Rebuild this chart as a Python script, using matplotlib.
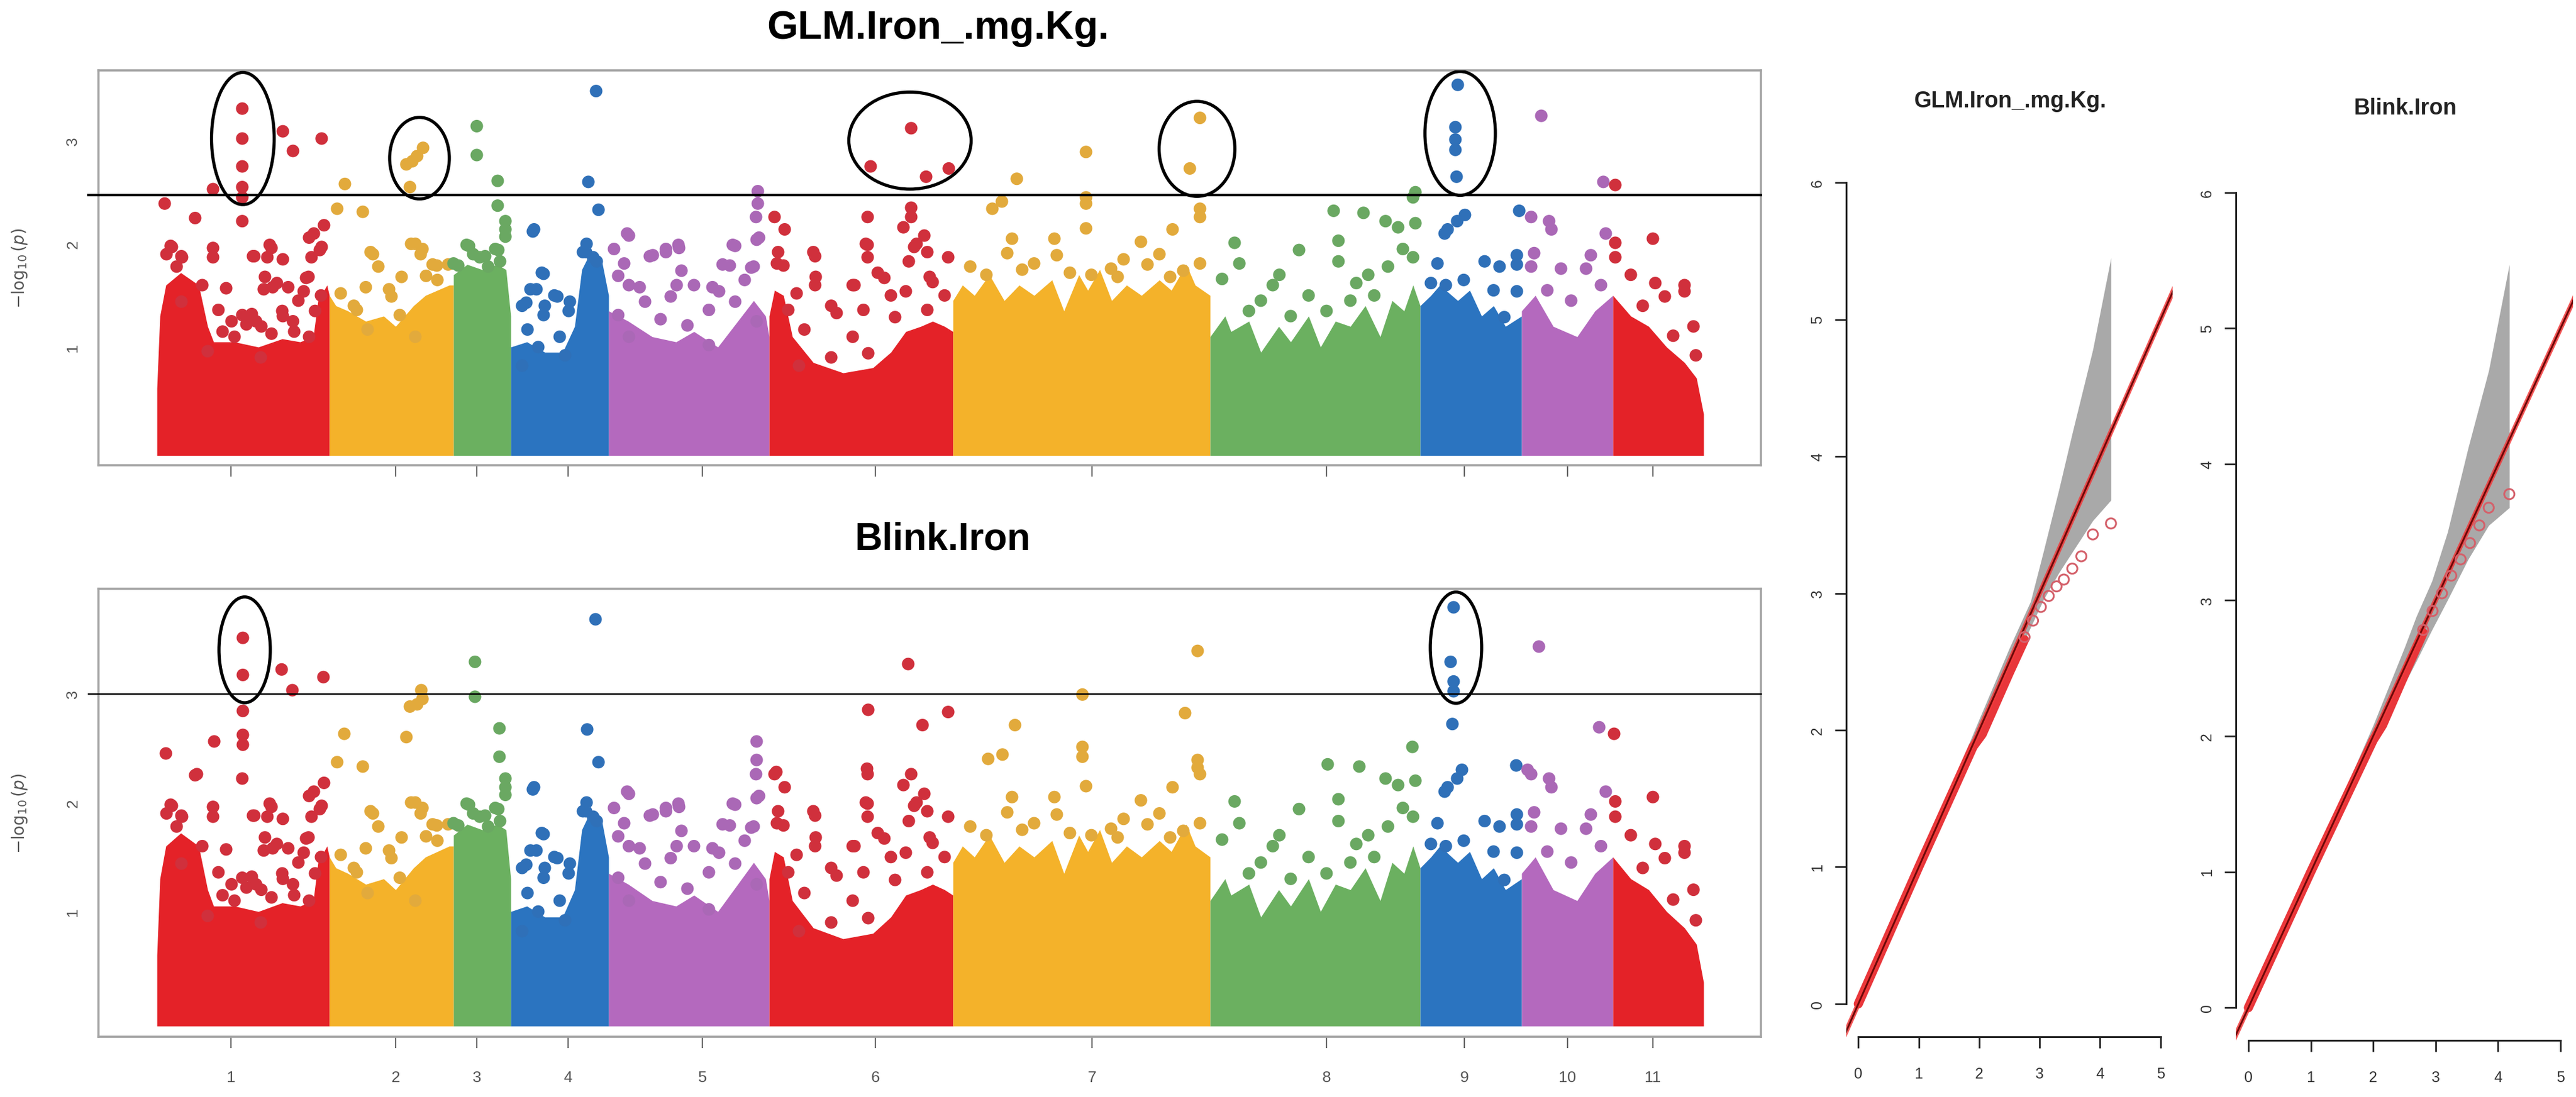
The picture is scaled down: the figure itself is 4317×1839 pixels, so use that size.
import numpy as np
import matplotlib
matplotlib.use("Agg")
import matplotlib.pyplot as plt
from matplotlib.patches import Ellipse

plt.rcParams['font.family'] = ['Liberation Sans', 'DejaVu Sans']

# ---- chromosome layout (position index units) ----
chrom_names = [str(i) for i in range(1, 12)]
chrom_len = [289, 208, 96, 164, 269, 308, 431, 352, 170, 153, 152]
chrom_tick = [124, 400, 536, 689, 914, 1204, 1567, 1960, 2191, 2364, 2507]
mass_colors = ['#e42228', '#f4b22a', '#6bb060', '#2b74c0', '#b469be']
dot_colors = ['#d0303c', '#e2aa3c', '#6aa862', '#2f70b8', '#aa68b6']

# dense bottom cloud: upper outline of the solid mass per chromosome
env_x = [
    [0, 5, 15, 40, 70, 85, 95, 130, 170, 210, 240, 262, 270, 285, 289],
    [289, 300, 320, 350, 380, 400, 430, 450, 470, 490, 497],
    [497, 520, 545, 570, 585, 593],
    [593, 620, 650, 680, 700, 712, 725, 745, 757],
    [757, 790, 830, 870, 900, 940, 980, 1000, 1020, 1026],
    [1026, 1035, 1050, 1065, 1100, 1150, 1200, 1230, 1255, 1280, 1300, 1320, 1334],
    [1334, 1350, 1370, 1395, 1420, 1445, 1470, 1500, 1520, 1545, 1560, 1580, 1600, 1625,
     1650, 1680, 1700, 1725, 1740, 1765],
    [1765, 1790, 1800, 1830, 1850, 1880, 1900, 1930, 1950, 1975, 2000, 2025, 2050, 2070,
     2090, 2105, 2117],
    [2117, 2135, 2150, 2180, 2200, 2220, 2240, 2260, 2287],
    [2287, 2310, 2340, 2380, 2410, 2440],
    [2440, 2470, 2500, 2530, 2560, 2580, 2592],
]
env_y = [
    [0.6, 1.3, 1.6, 1.72, 1.6, 1.2, 1.05, 1.05, 1.0, 1.08, 1.05, 1.1, 1.45, 1.6, 1.5],
    [1.5, 1.4, 1.35, 1.25, 1.3, 1.2, 1.4, 1.5, 1.55, 1.6, 1.6],
    [1.7, 1.8, 1.75, 1.8, 1.75, 1.3],
    [1.0, 1.05, 0.95, 0.95, 1.2, 1.75, 1.9, 1.85, 1.5],
    [1.35, 1.25, 1.1, 1.05, 1.15, 1.0, 1.3, 1.45, 1.3, 1.1],
    [1.3, 1.55, 1.5, 1.1, 0.85, 0.75, 0.8, 0.95, 1.15, 1.2, 1.25, 1.2, 1.15],
    [1.45, 1.6, 1.5, 1.7, 1.45, 1.6, 1.5, 1.65, 1.35, 1.7, 1.55, 1.75, 1.45, 1.6,
     1.5, 1.65, 1.55, 1.8, 1.6, 1.5],
    [1.1, 1.3, 1.15, 1.25, 0.95, 1.2, 1.05, 1.3, 1.0, 1.25, 1.2, 1.4, 1.1, 1.45,
     1.35, 1.6, 1.4],
    [1.4, 1.5, 1.6, 1.45, 1.55, 1.3, 1.4, 1.2, 1.3],
    [1.35, 1.5, 1.2, 1.1, 1.35, 1.5],
    [1.5, 1.3, 1.2, 1.0, 0.85, 0.7, 0.35],
]

# scattered SNPs above the dense cloud (shared by both models)
bg_x = [64, 25, 16, 42, 94, 94, 33, 163, 189, 185, 211, 259, 263, 280, 276, 116, 194, 220,
        181, 254, 237, 159, 150, 211, 143, 110, 125, 175, 230, 265, 275,
        23, 41, 161, 192, 255, 273, 179, 201, 250, 143, 210, 166, 228, 103, 41, 76, 246,
        130, 192, 255, 85, 174,
        426, 445, 358, 371, 462, 488, 350, 393, 410, 330, 470,
        362, 433, 442, 389, 308, 335, 451, 469, 407, 353, 433,
        584, 584, 584, 519, 567, 541, 497, 575, 530, 555, 523, 550, 572, 505,
        632, 714, 731, 645, 636, 619, 671, 650, 690, 720,
        630, 648, 626, 666, 612, 648, 692, 621, 675, 639, 684, 612, 719, 737,
        1004, 1009, 788, 766, 874, 853, 831, 965, 948, 1000, 879, 783, 809, 931, 861, 900, 985,
        791, 826, 853, 875, 969, 1005, 960, 996, 773, 791, 871, 942, 818, 925, 969, 773, 844,
        889, 1005, 791, 925,
        1191, 1264, 1035, 1052, 1251, 1191, 1269, 1100, 1286, 1191, 1039, 1260, 1169, 1104,
        1295, 1208, 1130, 1230, 1320,
        1041, 1050, 1103, 1188, 1273, 1291, 1326, 1072, 1103, 1166, 1219, 1255, 1300, 1058,
        1139, 1184, 1237, 1291, 1085, 1166, 1130, 1192, 1076,
        1557, 1748, 1702, 1433, 1504, 1425, 1508, 1748, 1649, 1698, 1363, 1470, 1566, 1599,
        1620, 1680, 1390, 1450, 1530, 1610, 1660, 1720,
        2059, 2080, 2109, 1806, 1914, 1980, 1814, 2088, 2105, 1785, 1881, 1980, 2030, 2063,
        1850, 1930, 2000, 1900, 1960, 2040, 1830, 1870, 2010,
        2179, 2158, 2163, 2146, 2225, 2279, 2279, 2250, 2258, 2279, 2190, 2160, 2135, 2240,
        2303, 2333, 2337, 2428, 2308, 2403, 2353, 2395, 2303, 2420, 2330, 2370,
        2444, 2507, 2444, 2511, 2560, 2560, 2527, 2541, 2579, 2470, 2490, 2575]
bg_y = [2.25, 1.97, 1.90, 1.87, 1.96, 1.87, 1.78, 1.88, 1.99, 1.87, 1.85, 1.87, 2.10, 2.18,
        1.97, 1.57, 1.58, 1.58, 1.68, 1.68, 1.45, 1.32, 1.22, 1.30, 2.22, 1.15, 1.25, 1.20,
        1.15, 1.35, 1.50,
        1.98, 1.88, 1.88, 1.96, 2.06, 1.94, 1.56, 1.62, 1.67, 1.31, 1.35, 1.25, 1.25, 1.36,
        1.44, 1.60, 1.54, 1.10, 1.13, 1.10, 0.96, 0.90,
        2.00, 1.95, 1.92, 1.78, 1.80, 1.80, 1.58, 1.49, 1.68, 1.40, 1.65,
        1.90, 2.00, 1.90, 1.56, 1.52, 1.36, 1.69, 1.79, 1.31, 1.17, 1.10,
        2.22, 2.14, 2.07, 1.99, 1.95, 1.87, 1.81, 1.83, 1.90, 1.78, 1.98, 1.88, 1.94, 1.79,
        2.14, 1.92, 1.87, 1.72, 1.56, 1.43, 1.49, 1.40, 1.35, 2.00,
        2.12, 1.71, 1.56, 1.50, 1.40, 1.31, 1.44, 1.17, 1.10, 1.00, 0.92, 0.82, 1.92, 1.83,
        2.26, 2.06, 2.10, 1.95, 1.99, 1.95, 1.89, 1.99, 1.80, 1.78, 1.74, 1.81, 1.58, 1.58,
        1.49, 1.60, 1.65,
        2.08, 1.88, 1.92, 1.96, 1.98, 2.04, 1.79, 1.77, 1.69, 1.60, 1.60, 1.54, 1.44, 1.36,
        1.44, 1.31, 1.27, 1.21, 1.25, 1.10, 1.02,
        2.26, 2.26, 2.26, 2.14, 2.16, 1.99, 1.97, 1.92, 2.08, 1.87, 1.81, 1.83, 1.60, 1.68,
        1.68, 1.72, 1.40, 1.50, 1.50,
        1.92, 1.79, 1.88, 2.00, 2.00, 1.92, 1.87, 1.52, 1.60, 1.60, 1.67, 1.54, 1.63, 1.36,
        1.33, 1.36, 1.29, 1.36, 1.17, 1.10, 0.90, 0.94, 0.82,
        2.15, 2.26, 2.14, 2.05, 2.05, 1.91, 1.89, 1.81, 2.02, 1.68, 1.78, 1.81, 1.70, 1.76,
        1.85, 1.90, 1.70, 1.75, 1.72, 1.68, 1.80, 1.74,
        2.22, 2.16, 2.20, 2.01, 1.94, 2.03, 1.81, 1.95, 1.87, 1.66, 1.70, 1.83, 1.70, 1.78,
        1.45, 1.50, 1.45, 1.30, 1.35, 1.50, 1.35, 1.60, 1.62,
        2.22, 2.10, 2.14, 1.81, 1.83, 1.89, 1.80, 1.78, 1.29, 1.54, 1.65, 1.60, 1.62, 1.55,
        2.26, 2.22, 2.14, 2.10, 1.91, 1.89, 1.76, 1.76, 1.78, 1.60, 1.55, 1.45,
        2.01, 2.05, 1.87, 1.62, 1.60, 1.54, 1.49, 1.11, 0.92, 1.70, 1.40, 1.20]

# top SNPs, GLM model
glm_x = [143, 143, 143, 143, 143, 211, 228, 276, 94, 13,
         446, 436, 428, 418, 424, 315, 302, 345,
         536, 536, 571, 571,
         736, 723, 740,
         1007, 1007,
         1264, 1196, 1289, 1327, 1264,
         1441, 1416, 1400, 1557, 1557, 1557, 1748, 1731, 1748,
         2105, 2109, 1972, 2022,
         2180, 2176, 2176, 2176, 2178, 2192,
         2320, 2424, 2283,
         2444]
glm_y = [3.31, 3.02, 2.75, 2.55, 2.45, 3.09, 2.90, 3.02, 2.53, 2.39,
         2.93, 2.85, 2.80, 2.77, 2.55, 2.58, 2.34, 2.31,
         3.14, 2.86, 2.61, 2.37,
         3.48, 2.60, 2.33,
         2.51, 2.39,
         3.12, 2.75, 2.65, 2.73, 2.35,
         2.63, 2.41, 2.34, 2.89, 2.45, 2.39, 3.22, 2.73, 2.34,
         2.45, 2.50, 2.32, 2.30,
         3.54, 3.13, 3.01, 2.91, 2.65, 2.28,
         3.24, 2.60, 2.32,
         2.57]

# top SNPs, BLINK model
blink_x = [144, 144, 144, 144, 144, 209, 227, 279, 15, 96, 67,
           443, 445, 436, 424, 418, 314, 302, 345,
           533, 533, 574, 574,
           735, 721, 740,
           1005, 1005,
           1192, 1190, 1259, 1283, 1326, 1038,
           1551, 1551, 1551, 1438, 1417, 1393, 1744, 1723, 1744, 1744,
           2104, 1962, 2015,
           2173, 2168, 2173, 2173, 2171, 2187,
           2316, 2417, 2278, 2297,
           2442]
blink_y = [3.51, 3.17, 2.84, 2.62, 2.53, 3.22, 3.03, 3.15, 2.45, 2.56, 2.26,
           3.03, 2.95, 2.90, 2.88, 2.60, 2.63, 2.37, 2.33,
           3.29, 2.97, 2.68, 2.42,
           3.68, 2.67, 2.37,
           2.56, 2.39,
           2.85, 2.31, 3.27, 2.71, 2.83, 2.28,
           2.99, 2.51, 2.42, 2.71, 2.44, 2.40, 3.39, 2.82, 2.39, 2.32,
           2.51, 2.35, 2.33,
           3.79, 3.29, 3.11, 3.02, 2.72, 2.30,
           3.43, 2.69, 2.34, 2.30,
           2.63]

glm_threshold = 2.47
blink_threshold = 3.0

# highlighted peaks: centre x, centre y, width, height
glm_rings = [(144, 3.02, 105, 1.28), (440, 2.83, 100, 0.79), (1262, 3.0, 205, 0.94),
             (1743, 2.92, 127, 0.92), (2184, 3.07, 118, 1.20)]
blink_rings = [(147, 3.40, 86, 0.97), (2177, 3.42, 86, 1.02)]

# QQ plots: confidence band and observed tail
qq_glm_band_x = [0.0, 1.0, 2.0, 2.5, 2.85, 3.06, 3.32, 3.54, 3.88, 4.18]
qq_glm_band_hi = [0.02, 1.03, 2.08, 2.60, 2.94, 3.30, 3.76, 4.17, 4.78, 5.45]
qq_glm_band_lo = [0.0, 0.97, 1.92, 2.42, 2.75, 2.95, 3.15, 3.30, 3.53, 3.68]
qq_glm_dense_x = [0.0, 1.0, 1.9, 2.05, 2.2, 2.5, 2.75]
qq_glm_dense_y = [0.0, 1.0, 1.88, 1.97, 2.12, 2.42, 2.66]
qq_glm_tail_x = [2.75, 2.89, 3.02, 3.15, 3.28, 3.40, 3.54, 3.69, 3.88, 4.18]
qq_glm_tail_y = [2.68, 2.80, 2.90, 2.98, 3.05, 3.10, 3.18, 3.27, 3.43, 3.51]

qq_blink_band_x = [0.0, 1.0, 2.0, 2.5, 2.69, 2.94, 3.19, 3.52, 3.85, 4.18]
qq_blink_band_hi = [0.02, 1.03, 2.08, 2.65, 2.88, 3.14, 3.50, 4.12, 4.69, 5.47]
qq_blink_band_lo = [0.0, 0.97, 1.92, 2.38, 2.55, 2.78, 3.00, 3.30, 3.55, 3.68]
qq_blink_dense_x = [0.0, 1.0, 2.0, 2.15, 2.5, 2.8]
qq_blink_dense_y = [0.0, 1.0, 1.97, 2.08, 2.45, 2.76]
qq_blink_tail_x = [2.8, 2.95, 3.1, 3.25, 3.4, 3.55, 3.7, 3.85, 4.18]
qq_blink_tail_y = [2.78, 2.92, 3.05, 3.18, 3.30, 3.42, 3.55, 3.68, 3.78]

W, H = 4317, 1840
fig = plt.figure(figsize=(W / 100, H / 100), dpi=100)

bounds = np.concatenate([[0], np.cumsum(chrom_len)])


def chrom_of(xs):
    return np.clip(np.searchsorted(bounds, np.asarray(xs), side='right') - 1, 0, len(chrom_len) - 1)


def manhattan(ax, top_x, top_y, threshold, rings, ylim, show_labels):
    for i in range(len(chrom_len)):
        ax.fill_between(env_x[i], -0.05, env_y[i], color=mass_colors[i % 5], lw=0, zorder=1)
    for xs, ys in ((bg_x, bg_y), (top_x, top_y)):
        cols = [dot_colors[c % 5] for c in chrom_of(xs)]
        ax.scatter(xs, ys, s=230, c=cols, linewidths=0, zorder=2)
    ax.axhline(threshold, xmin=-0.006, color='black', lw=3.0 if not show_labels else 1.8,
               zorder=3, clip_on=False)
    for cx, cy, w, h in rings:
        ax.add_patch(Ellipse((cx, cy), w, h, fill=False, ec='black', lw=3.8, zorder=4))
    ax.set_xlim(-98, 2688)
    ax.set_ylim(*ylim)
    for sp in ax.spines.values():
        sp.set_color('#a3a3a3')
        sp.set_linewidth(2.6)
    ax.set_yticks([1, 2, 3])
    ax.set_yticklabels(['1', '2', '3'], rotation=90, va='center')
    ax.tick_params(axis='y', length=0, pad=22, labelsize=19, labelcolor='#555555')
    ax.set_xticks(chrom_tick)
    ax.set_xticklabels(chrom_names if show_labels else [''] * len(chrom_names))
    ax.tick_params(axis='x', length=14, width=1.6, color='#666666', pad=26,
                   labelsize=19, labelcolor='#555555')
    ax.text(-0.0474, 0.5, r'$-\log_{10}(p)$', transform=ax.transAxes, rotation=90,
            ha='center', va='center', fontsize=20, color='#555555')


ax_top = fig.add_axes([165 / W, 1 - 781 / H, 2786 / W, 662 / H])
manhattan(ax_top, glm_x, glm_y, glm_threshold, glm_rings, (-0.145, 3.68), False)
ax_bot = fig.add_axes([165 / W, 1 - 1739 / H, 2786 / W, 751 / H])
manhattan(ax_bot, blink_x, blink_y, blink_threshold, blink_rings, (-0.148, 3.96), True)

fig.text(1572 / W, 1 - 48 / H, 'GLM.Iron_.mg.Kg.', ha='center', va='center',
         fontsize=48, fontweight='bold')
fig.text(1580 / W, 1 - 905 / H, 'Blink.Iron', ha='center', va='center',
         fontsize=46, fontweight='bold')


def qq(ax, bx, blo, bhi, dx, dy, tx, ty):
    ax.fill_between(bx, blo, bhi, color='#a9a9a9', lw=0, zorder=1)
    ax.plot(dx, dy, color='#e8363a', lw=11, solid_capstyle='round', zorder=2)
    ax.plot([-0.5, 6], [-0.5, 6], color='#f23a3a', lw=6, alpha=0.85, zorder=3)
    ax.plot([-0.5, 6], [-0.5, 6], color='#6e0808', lw=2.2, zorder=4)
    ax.scatter(tx, ty, s=150, facecolors='none', edgecolors='#d4606a', linewidths=2.2, zorder=5)
    ax.set_xlim(-0.2, 5.2)
    ax.set_ylim(-0.24, 6.24)
    ax.spines['top'].set_visible(False)
    ax.spines['right'].set_visible(False)
    ax.spines['left'].set_bounds(0, 6)
    ax.spines['bottom'].set_bounds(0, 5)
    for s in ('left', 'bottom'):
        ax.spines[s].set_linewidth(2.2)
        ax.spines[s].set_color('#222222')
    ax.set_xticks(range(6))
    ax.set_yticks(range(7))
    ax.set_yticklabels([str(v) for v in range(7)], rotation=90, va='center')
    ax.tick_params(axis='both', length=14, width=2.0, color='#222222', labelsize=18,
                   labelcolor='#333333')
    ax.tick_params(axis='x', pad=22)
    ax.tick_params(axis='y', pad=12)


ax_q1 = fig.add_axes([3094 / W, 1 - 1739 / H, 547 / W, 1487 / H])
qq(ax_q1, qq_glm_band_x, qq_glm_band_lo, qq_glm_band_hi,
   qq_glm_dense_x, qq_glm_dense_y, qq_glm_tail_x, qq_glm_tail_y)
ax_q2 = fig.add_axes([3747 / W, 1 - 1745 / H, 565 / W, 1476 / H])
qq(ax_q2, qq_blink_band_x, qq_blink_band_lo, qq_blink_band_hi,
   qq_blink_dense_x, qq_blink_dense_y, qq_blink_tail_x, qq_blink_tail_y)

fig.text(3369 / W, 1 - 170 / H, 'GLM.Iron_.mg.Kg.', ha='center', va='center',
         fontsize=27, fontweight='bold', color='#222222')
fig.text(4031 / W, 1 - 182 / H, 'Blink.Iron', ha='center', va='center',
         fontsize=27, fontweight='bold', color='#222222')

fig.savefig('out.png', dpi=100, facecolor='white')
